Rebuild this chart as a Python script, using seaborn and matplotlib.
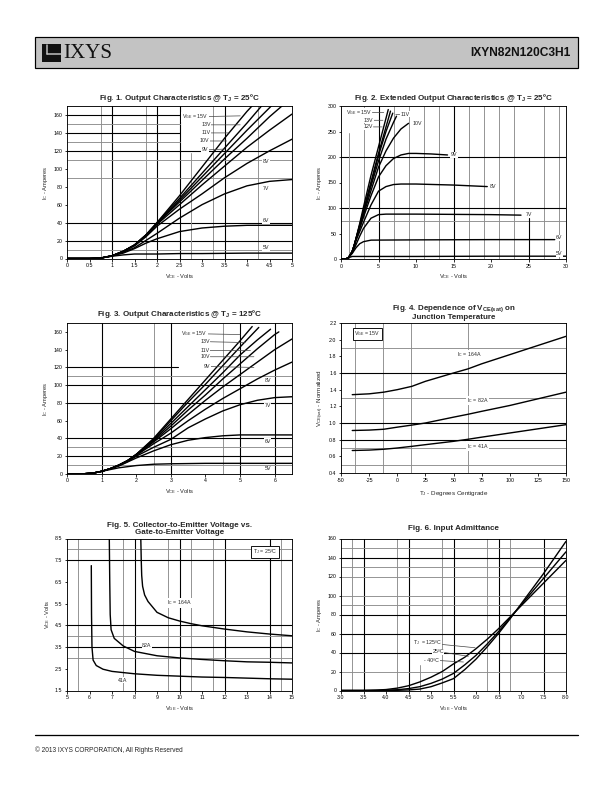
import matplotlib
matplotlib.use('Agg')
import matplotlib.pyplot as plt
import seaborn as sns
from matplotlib.patches import Rectangle
from matplotlib.ticker import FormatStrFormatter, MultipleLocator

# ---- Fig 1: output characteristics @ 25C (V_CE, I_C per V_GE) ----
fig1_curves = {
    '15V': ([0, 0.5, 0.75, 1, 1.25, 1.5, 1.75, 2, 2.5, 3, 3.5, 4, 4.13],
            [0, 0, 0.5, 3, 8, 15, 26, 40, 70, 102, 134, 164, 171]),
    '13V': ([0, 0.5, 0.75, 1, 1.25, 1.5, 1.75, 2, 2.5, 3, 3.5, 4, 4.34],
            [0, 0, 0.5, 3, 8, 15, 26, 40, 67, 95, 123, 151, 171]),
    '11V': ([0, 0.5, 0.75, 1, 1.25, 1.5, 1.75, 2, 2.5, 3, 3.5, 4, 4.5, 4.56],
            [0, 0, 0.5, 3, 8, 15, 26, 39, 65, 91, 117, 143, 168, 171]),
    '10V': ([0, 0.5, 0.75, 1, 1.25, 1.5, 1.75, 2, 2.5, 3, 3.5, 4, 4.5, 4.8],
            [0, 0, 0.5, 3, 8, 15, 26, 39, 63, 87, 111, 134, 158, 171]),
    '9V': ([0, 0.5, 0.75, 1, 1.25, 1.5, 1.75, 2, 2.5, 3, 3.5, 4, 4.5, 5],
           [0, 0, 0.5, 3, 8, 15, 25, 38, 60, 82, 103, 124, 143, 161]),
    '8V': ([0, 0.5, 0.75, 1, 1.25, 1.5, 1.75, 2, 2.5, 3, 3.5, 4, 4.5, 5],
           [0, 0, 0.5, 3, 8, 14, 24, 36, 55, 72, 90, 106, 120, 133]),
    '7V': ([0, 0.5, 0.75, 1, 1.25, 1.5, 1.75, 2, 2.5, 3, 3.5, 4, 4.5, 5],
           [0, 0, 0.5, 3, 7, 12, 20, 28, 45, 60, 72, 81, 86, 88]),
    '6V': ([0, 0.5, 0.75, 1, 1.25, 1.5, 1.75, 2, 2.5, 3, 3.5, 4, 4.5, 5],
           [0, 0, 0.5, 3, 6, 11, 17, 22, 30, 34, 36, 37, 37, 37]),
    '5V': ([0, 0.5, 0.75, 1, 1.25, 1.5, 2, 2.5, 3, 4, 5],
           [0, 0, 0.5, 2.5, 4, 5, 5, 5.5, 5.5, 6, 6]),
}

# ---- Fig 2: extended output characteristics @ 25C ----
fig2_curves = {
    '15V': ([0, 0.7, 1, 1.25, 1.5, 1.75, 2, 2.5, 3, 4, 5, 6, 6.3],
            [0, 0.3, 3, 8, 15, 26, 40, 70, 102, 164, 220, 276, 293]),
    '13V': ([0, 0.7, 1, 1.25, 1.5, 1.75, 2, 2.5, 3, 4, 5, 6, 6.6],
            [0, 0.3, 3, 8, 15, 26, 40, 67, 95, 151, 207, 259, 290]),
    '12V': ([0, 0.7, 1, 1.25, 1.5, 1.75, 2, 2.5, 3, 4, 5, 6, 6.9],
            [0, 0.3, 3, 8, 15, 26, 40, 66, 93, 147, 203, 250, 286]),
    '11V': ([0, 0.7, 1, 1.25, 1.5, 1.75, 2, 2.5, 3, 4, 5, 6, 7, 7.4],
            [0, 0.3, 3, 8, 15, 26, 39, 65, 91, 143, 192, 235, 268, 280]),
    '10V': ([0, 0.7, 1, 1.25, 1.5, 1.75, 2, 2.5, 3, 4, 5, 6, 7, 8, 9],
            [0, 0.3, 3, 8, 15, 26, 39, 63, 87, 134, 180, 212, 237, 255, 266]),
    '9V': ([0, 0.7, 1, 1.5, 2, 3, 4, 5, 6, 7, 8, 9, 10, 12, 14.2],
           [0, 0.3, 3, 15, 38, 82, 124, 161, 183, 197, 204, 207, 207, 206, 204]),
    '8V': ([0, 0.7, 1, 1.5, 2, 3, 4, 5, 6, 7, 8, 10, 15, 19.5],
           [0, 0.3, 3, 14, 36, 72, 106, 133, 142, 146, 147, 147, 145, 142]),
    '7V': ([0, 0.7, 1, 1.5, 2, 2.5, 3, 4, 5, 6, 10, 15, 20, 24],
           [0, 0.3, 3, 12, 28, 45, 60, 80, 87, 88, 88, 87.5, 87, 86]),
    '6V': ([0, 0.7, 1, 1.5, 2, 2.5, 3, 4, 10, 20, 28.5],
           [0, 0.3, 3, 11, 22, 30, 34, 37, 37.5, 38, 38]),
    '5V': ([0, 0.7, 1, 1.5, 2, 3, 10, 20, 30],
           [0, 0.3, 2.5, 5, 5, 5, 5, 5.5, 5.5]),
}

# ---- Fig 3: output characteristics @ 125C ----
fig3_curves = {
    '15V': ([0, 0.5, 0.75, 1, 1.25, 1.5, 1.75, 2, 2.5, 3, 3.5, 4, 4.5, 5, 5.35],
            [0, 0.3, 1, 3, 6, 10, 15, 22, 40, 62, 84, 106, 128, 150, 166]),
    '13V': ([0, 0.5, 0.75, 1, 1.25, 1.5, 1.75, 2, 2.5, 3, 3.5, 4, 4.5, 5, 5.54],
            [0, 0.3, 1, 3, 6, 10, 15, 22, 39, 60, 81, 101, 122, 143, 165]),
    '11V': ([0, 0.5, 0.75, 1, 1.25, 1.5, 1.75, 2, 2.5, 3, 3.5, 4, 4.5, 5, 5.5, 5.88],
            [0, 0.3, 1, 3, 6, 10, 15, 22, 38, 57, 76, 95, 114, 134, 151, 163]),
    '10V': ([0, 0.5, 0.75, 1, 1.25, 1.5, 1.75, 2, 2.5, 3, 3.5, 4, 4.5, 5, 5.5, 6, 6.12],
            [0, 0.3, 1, 3, 6, 10, 15, 22, 37, 54, 72, 89, 107, 124, 141, 157, 160]),
    '9V': ([0, 0.5, 0.75, 1, 1.25, 1.5, 1.75, 2, 2.5, 3, 3.5, 4, 4.5, 5, 5.5, 6, 6.5],
           [0, 0.3, 1, 3, 6, 10, 15, 21, 36, 51, 67, 83, 98, 112, 126, 140, 152]),
    '8V': ([0, 0.5, 0.75, 1, 1.25, 1.5, 1.75, 2, 2.5, 3, 3.5, 4, 4.5, 5, 5.5, 6, 6.5],
           [0, 0.3, 1, 3, 6, 10, 15, 21, 34, 46, 60, 73, 85, 96, 107, 117, 126]),
    '7V': ([0, 0.5, 0.75, 1, 1.25, 1.5, 1.75, 2, 2.5, 3, 3.5, 4, 4.5, 5, 5.5, 6, 6.5],
           [0, 0.3, 1, 3, 6, 9.5, 14, 20, 30, 39, 52, 62, 71, 78, 83, 86, 87]),
    '6V': ([0, 0.5, 0.75, 1, 1.25, 1.5, 2, 2.5, 3, 3.5, 4, 4.5, 5, 6, 6.5],
           [0, 0.3, 1, 3, 6, 9, 18, 26, 33, 38, 41, 43, 44, 44, 44]),
    '5V': ([0, 0.5, 0.75, 1, 1.5, 2, 2.5, 3, 4, 5, 6.5],
           [0, 0.3, 1, 3, 7, 9.5, 11, 11.5, 12, 12, 12]),
}

# ---- Fig 4: V_CE(sat) normalized vs junction temperature ----
fig4_temp = [-40, -25, -12, 0, 13, 25, 50, 63, 75, 100, 125, 150]
fig4_164a = [1.34, 1.35, 1.37, 1.40, 1.44, 1.50, 1.60, 1.65, 1.71, 1.82, 1.93, 2.04]
fig4_82a = [0.91, 0.915, 0.925, 0.95, 0.975, 1.00, 1.07, 1.105, 1.14, 1.21, 1.29, 1.37]
fig4_41a = [0.67, 0.675, 0.685, 0.70, 0.72, 0.74, 0.78, 0.805, 0.83, 0.88, 0.93, 0.98]

# ---- Fig 5: V_CE vs V_GE ----
fig5_164a_vge = [8.28, 8.3, 8.32, 8.36, 8.45, 8.6, 9, 9.5, 10, 10.5, 11, 12, 13, 14, 15]
fig5_164a_vce = [8.5, 7.5, 6.8, 6.3, 5.9, 5.6, 5.1, 4.85, 4.7, 4.58, 4.48, 4.33, 4.2, 4.1, 4.02]
fig5_82a_vge = [6.88, 6.9, 6.92, 6.96, 7.1, 7.5, 8, 9, 10, 11, 12, 13, 14, 15]
fig5_82a_vce = [8.5, 6.5, 5.0, 4.3, 3.9, 3.55, 3.3, 3.1, 3.0, 2.93, 2.87, 2.82, 2.8, 2.77]
fig5_41a_vge = [6.08, 6.09, 6.11, 6.16, 6.3, 6.6, 7, 8, 9, 10, 11, 12, 13, 14, 15]
fig5_41a_vce = [7.25, 5.0, 3.5, 2.9, 2.65, 2.48, 2.38, 2.27, 2.2, 2.16, 2.12, 2.1, 2.07, 2.04, 2.02]

# ---- Fig 6: input admittance ----
fig6_vge = [3.0, 3.5, 3.8, 4.0, 4.25, 4.5, 4.75, 5.0, 5.25, 5.5, 5.75, 6.0, 6.25, 6.5, 6.75, 7.0,
            7.25, 7.5, 7.75, 8.0]
fig6_125c = [0, 0, 0.5, 1, 2.5, 5, 9, 14, 20, 28, 35, 44, 54, 65, 77, 89, 101, 113, 125, 137]
fig6_25c = [0, 0, 0, 0.3, 0.8, 2, 4, 7.5, 12, 18, 27, 37, 49, 62, 76, 90, 104, 118, 132, 146]
fig6_m40c = [0, 0, 0, 0, 0.2, 0.6, 1.5, 4, 8, 12.5, 22, 33, 46, 60, 75, 91, 107, 123, 140, 157]

W, H = 612, 792
GRAY = '#8c8c8c'

sns.set_theme(style='ticks')
plt.rcParams['font.family'] = ['Liberation Sans', 'DejaVu Sans']
plt.rcParams['mathtext.default'] = 'regular'
plt.rcParams['axes.linewidth'] = 0.9
plt.rcParams['axes.edgecolor'] = 'black'

fig = plt.figure(figsize=(W / 72, H / 72), dpi=72)


def make_ax(l, t, r, b):
    return fig.add_axes([l / W, 1 - b / H, (r - l) / W, (b - t) / H])


def style(ax, xlim, ylim, xstep, ystep, xfmt, yfmt, y0=None):
    ax.set_xlim(*xlim)
    ax.set_ylim(*ylim)
    ax.xaxis.set_major_locator(MultipleLocator(xstep))
    if y0 is None:
        ax.yaxis.set_major_locator(MultipleLocator(ystep))
    else:
        ax.set_yticks([y0 + i * ystep for i in range(int((ylim[1] - y0) / ystep + 1.01))])
    ax.xaxis.set_major_formatter(FormatStrFormatter(xfmt))
    ax.yaxis.set_major_formatter(FormatStrFormatter(yfmt))
    ax.tick_params(labelsize=5.3, length=2.5, width=0.8, pad=2, colors='black')
    for s in ax.spines.values():
        s.set_color('black')
        s.set_linewidth(0.9)


def grid(ax, bv=(), gv=(), bh=(), gh=()):
    for v in bv:
        ax.axvline(v, color='black', lw=1.1, zorder=1)
    for v in gv:
        ax.axvline(v, color=GRAY, lw=0.9, zorder=1)
    for h in bh:
        ax.axhline(h, color='black', lw=1.1, zorder=1)
    for h in gh:
        ax.axhline(h, color=GRAY, lw=0.9, zorder=1)


def curve(ax, x, y, sort=True):
    sns.lineplot(x=x, y=y, ax=ax, color='black', linewidth=1.4, estimator=None,
                 sort=sort, legend=False, zorder=3)


def lab(ax, text, xy, xytext=None, fs=5.2, ha='left'):
    bb = dict(boxstyle='square,pad=0.1', fc='white', ec='none')
    if xytext is None:
        ax.text(xy[0], xy[1], text, fontsize=fs, va='center', ha=ha, bbox=bb, zorder=4)
    else:
        ax.annotate(text, xy=xy, xytext=xytext, fontsize=fs, va='center', ha=ha, bbox=bb,
                    zorder=4, arrowprops=dict(arrowstyle='-', lw=0.7, color='#444444',
                                              shrinkA=0, shrinkB=0))


def titles(ax, text, pad):
    ax.set_title(text, fontsize=8, fontweight='bold', pad=pad, linespacing=1.1)


# ---------------- header / footer ----------------
fig.patches.append(Rectangle((35 / W, 1 - 68 / H), 543 / W, 31 / H, transform=fig.transFigure,
                             fc='#c3c3c3', ec='black', lw=1.2))
fig.patches.append(Rectangle((42 / W, 1 - 62 / H), 19 / W, 18 / H, transform=fig.transFigure,
                             fc='#111111', ec='none'))
fig.lines.append(plt.Line2D([47 / W, 47 / W], [1 - 45 / H, 1 - 54 / H], transform=fig.transFigure,
                            color='#c3c3c3', lw=1.5))
fig.lines.append(plt.Line2D([47 / W, 61 / W], [1 - 54 / H, 1 - 54 / H], transform=fig.transFigure,
                            color='#c3c3c3', lw=1.5))
fig.text(63 / W, 1 - 53 / H, 'IXYS', fontsize=21, family='Liberation Serif', va='center',
         ha='left', color='#111111')
fig.text(571 / W, 1 - 53 / H, 'IXYN82N120C3H1', fontsize=12, fontweight='bold', va='center',
         ha='right', color='#111111')
fig.lines.append(plt.Line2D([35 / W, 578 / W], [1 - 735 / H, 1 - 735 / H], transform=fig.transFigure,
                            color='black', lw=1.3))
fig.text(35 / W, 1 - 750 / H, '© 2013 IXYS CORPORATION, All Rights Reserved', fontsize=6.5,
         va='center', ha='left')

LX, RX, AW = 67, 341, 225

# ---------------- Fig 1 ----------------
ax1 = make_ax(LX, 106, LX + AW, 258.5)
style(ax1, (0, 5), (0, 170), 0.5, 20, '%g', '%g')
grid(ax1, bv=(1, 2, 2.5, 3.5), gv=(0.75, 1.75, 3.25, 4.25), bh=(120, 40, 20), gh=(110, 90, 10))
ax1.axvline(2.75, ymax=118 / 170, color=GRAY, lw=0.9, zorder=1)
for h, c in ((160, 'black'), (140, 'black'), (150, GRAY), (130, GRAY)):
    ax1.axhline(h, xmax=2.5 / 5, color=c, lw=1.1 if c == 'black' else 0.9, zorder=1)
for k, (x, y) in fig1_curves.items():
    curve(ax1, x, y)
lab(ax1, r'V$_{GE}$ = 15V', (3.85, 159), (2.55, 158))
lab(ax1, '13V', (3.85, 149), (2.98, 149))
lab(ax1, '11V', (3.6, 140), (2.98, 140))
lab(ax1, '10V', (3.55, 131), (2.95, 131))
lab(ax1, '9V', (3.5, 122), (3.0, 121))
lab(ax1, '8V', (4.35, 108))
lab(ax1, '7V', (4.35, 78))
lab(ax1, '6V', (4.35, 42))
lab(ax1, '5V', (4.35, 12))
titles(ax1, r'Fig. 1. Output Characteristics @ T$_J$ = 25ºC', 6)
ax1.set_xlabel(r'V$_{CE}$ - Volts', fontsize=5.8, labelpad=4)
ax1.set_ylabel(r'I$_C$ - Amperes', fontsize=5.8, labelpad=3)

# ---------------- Fig 2 ----------------
ax2 = make_ax(RX, 106, RX + AW, 259)
style(ax2, (0, 30), (0, 300), 5, 50, '%g', '%g')
grid(ax2, bv=(5, 15), gv=(3, 7, 9, 11, 13, 17, 19, 21, 23, 27, 29), bh=(200, 100), gh=(75,))
ax2.axvline(1, ymax=248 / 300, color=GRAY, lw=0.9, zorder=1)
ax2.axvline(25, ymax=80 / 300, color='black', lw=1.1, zorder=1)
for k, (x, y) in fig2_curves.items():
    curve(ax2, x, y)
lab(ax2, r'V$_{GE}$ = 15V', (5.7, 287), (0.6, 287))
lab(ax2, '13V', (5.6, 272), (3.0, 272))
lab(ax2, '12V', (5.5, 259), (3.0, 259))
lab(ax2, '11V', (7.3, 283), (7.9, 284))
lab(ax2, '10V', (9.6, 265))
lab(ax2, '9V', (14.6, 204))
lab(ax2, '8V', (19.9, 142))
lab(ax2, '7V', (24.6, 88))
lab(ax2, '6V', (28.7, 42))
lab(ax2, '5V', (28.7, 10))
titles(ax2, r'Fig. 2. Extended Output Characteristics @ T$_J$ = 25ºC', 6)
ax2.set_xlabel(r'V$_{CE}$ - Volts', fontsize=5.8, labelpad=4)
ax2.set_ylabel(r'I$_C$ - Amperes', fontsize=5.8, labelpad=3)

# ---------------- Fig 3 ----------------
ax3 = make_ax(LX, 323, LX + AW, 474)
style(ax3, (0, 6.5), (0, 170), 1, 20, '%g', '%g')
grid(ax3, bv=(1, 3, 5, 6), gv=(2.5, 4.5), bh=(100, 80, 40, 20), gh=(110, 30, 10))
ax3.axhline(120, xmax=3.2 / 6.5, color='black', lw=1.1, zorder=1)
for k, (x, y) in fig3_curves.items():
    curve(ax3, x, y)
lab(ax3, r'V$_{GE}$ = 15V', (5.0, 157), (3.3, 158))
lab(ax3, '13V', (5.15, 148), (3.85, 149))
lab(ax3, '11V', (5.3, 139), (3.85, 139))
lab(ax3, '10V', (5.4, 132), (3.85, 132))
lab(ax3, '9V', (5.4, 120), (3.95, 121))
lab(ax3, '8V', (5.7, 105))
lab(ax3, '7V', (5.7, 77))
lab(ax3, '6V', (5.7, 37))
lab(ax3, '5V', (5.7, 6))
titles(ax3, r'Fig. 3. Output Characteristics @ T$_J$ = 125ºC', 7)
ax3.set_xlabel(r'V$_{CE}$ - Volts', fontsize=5.8, labelpad=4)
ax3.set_ylabel(r'I$_C$ - Amperes', fontsize=5.8, labelpad=3)

# ---------------- Fig 4 ----------------
ax4 = make_ax(RX, 323, RX + AW, 473)
style(ax4, (-50, 150), (0.4, 2.2), 25, 0.2, '%g', '%.1f')
grid(ax4, gv=(-37.5, -12.5, 12.5, 62.5), bh=(1.6, 1.0, 0.8), gh=(1.9, 1.3, 0.7, 0.5))
curve(ax4, fig4_temp, fig4_164a)
curve(ax4, fig4_temp, fig4_82a)
curve(ax4, fig4_temp, fig4_41a)
ax4.text(-38, 2.07, r'V$_{GE}$ = 15V', fontsize=5.2, va='center', ha='left', zorder=4,
         bbox=dict(boxstyle='square,pad=0.3', fc='white', ec='black', lw=0.9))
lab(ax4, r'I$_C$ = 164A', (53, 1.82))
lab(ax4, r'I$_C$ = 82A', (62, 1.27))
lab(ax4, r'I$_C$ = 41A', (62, 0.72))
titles(ax4, 'Fig. 4. Dependence of V$_{CE(sat)}$ on\nJunction Temperature', 4)
ax4.set_xlabel(r'T$_J$ - Degrees Centigrade', fontsize=6.2, labelpad=6)
ax4.set_ylabel(r'V$_{CE(sat)}$ - Normalized', fontsize=6.2, labelpad=3)

# ---------------- Fig 5 ----------------
ax5 = make_ax(LX, 538.5, LX + AW, 690.5)
style(ax5, (5, 15), (1.5, 8.5), 1, 1, '%g', '%.1f', y0=1.5)
grid(ax5, bv=(8, 10, 12, 14), gv=(5.5, 7.5, 9.5, 10.5, 11.5, 14.5), bh=(7.5, 4.5, 3.5),
     gh=(8.0, 4.0, 3.0))
curve(ax5, fig5_164a_vge, fig5_164a_vce, sort=False)
curve(ax5, fig5_82a_vge, fig5_82a_vce, sort=False)
curve(ax5, fig5_41a_vge, fig5_41a_vce, sort=False)
ax5.text(13.8, 7.9, r'T$_J$ = 25ºC', fontsize=5.2, va='center', ha='center', zorder=4,
         bbox=dict(boxstyle='square,pad=0.3', fc='white', ec='black', lw=0.9))
lab(ax5, r'I$_C$ = 164A', (10.0, 5.55), ha='center')
lab(ax5, '82A', (8.55, 3.55), ha='center')
lab(ax5, '41A', (7.45, 1.97), ha='center')
titles(ax5, 'Fig. 5. Collector-to-Emitter Voltage vs.\nGate-to-Emitter Voltage', 4)
ax5.set_xlabel(r'V$_{GE}$ - Volts', fontsize=5.8, labelpad=4)
ax5.set_ylabel(r'V$_{CE}$ - Volts', fontsize=5.8, labelpad=3)

# ---------------- Fig 6 ----------------
ax6 = make_ax(RX, 538.5, RX + AW, 690.5)
style(ax6, (3.0, 8.0), (0, 160), 0.5, 20, '%.1f', '%g')
grid(ax6, bv=(3.5, 4.5, 5.5, 6.5, 7.5), gv=(3.25, 4.25, 5.25, 6.25, 6.75),
     bh=(140, 80, 60, 40), gh=(150, 130, 120, 100, 90, 20))
ax6.axvline(4.75, ymax=27 / 160, color=GRAY, lw=0.9, zorder=1)
curve(ax6, fig6_vge, fig6_125c)
curve(ax6, fig6_vge, fig6_25c)
curve(ax6, fig6_vge, fig6_m40c)
lab(ax6, r'T$_J$  = 125ºC', (5.98, 45), (4.6, 50))
lab(ax6, '25ºC', (5.83, 36), (5.03, 41))
lab(ax6, '- 40ºC', (5.72, 30), (4.85, 32))
titles(ax6, 'Fig. 6. Input Admittance', 8)
ax6.set_xlabel(r'V$_{GE}$ - Volts', fontsize=5.8, labelpad=4)
ax6.set_ylabel(r'I$_C$ - Amperes', fontsize=5.8, labelpad=3)

fig.savefig('out.png', dpi=72)
